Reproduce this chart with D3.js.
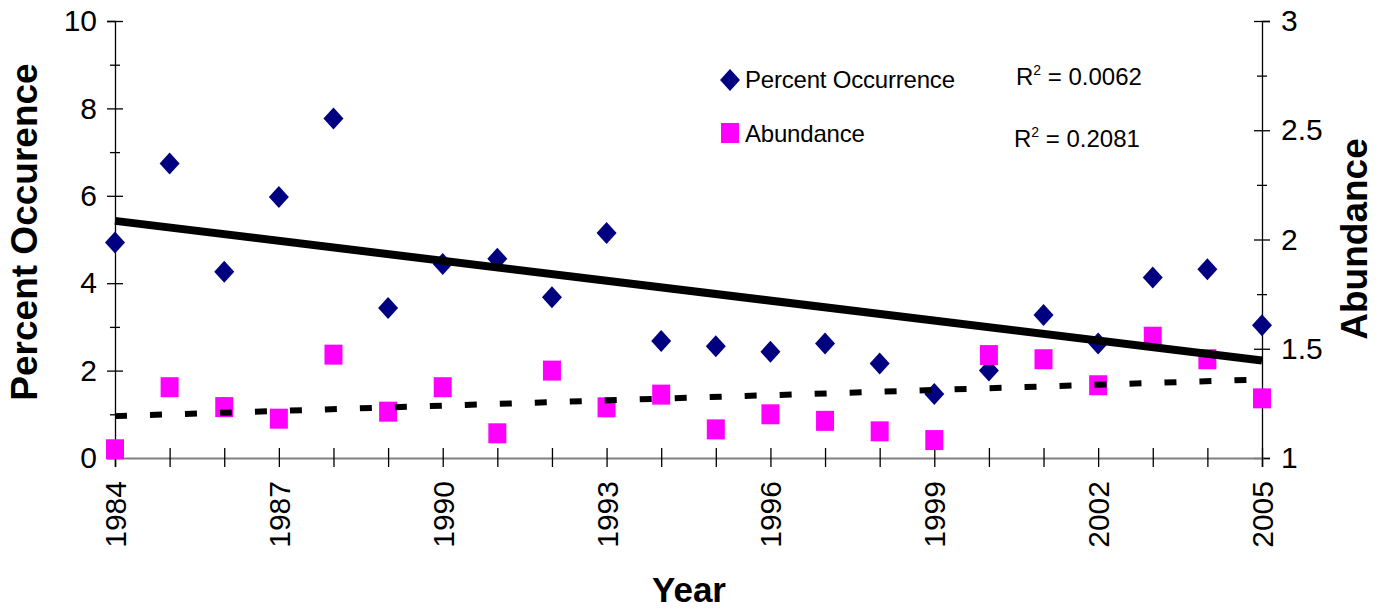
<!DOCTYPE html>
<meta charset="utf-8">
<style>
body { margin: 0; background: #fff; }
svg { font-family: "Liberation Sans", Arial, sans-serif; }
.tick text { font-size: 30px; fill: #000; }
</style>
<svg width="1387" height="610"></svg>
<script src="https://d3js.org/d3.v7.min.js"></script>
<script>

var years = d3.range(1984, 2006);
var percentOccurrence = [4.93, 6.74, 4.26, 5.97, 7.77, 3.43, 4.44, 4.56, 3.68, 5.15, 2.68,
                         2.56, 2.43, 2.62, 2.16, 1.465, 2.0, 3.27, 2.62, 4.13, 4.32, 3.04];
var abundance = [1.04, 1.324, 1.233, 1.18, 1.473, 1.212, 1.324, 1.113, 1.40, 1.232, 1.29,
                 1.131, 1.20, 1.17, 1.122, 1.082, 1.471, 1.452, 1.333, 1.555, 1.452, 1.273];
var leftTicks = [0, 2, 4, 6, 8, 10];
var leftMinor = [1, 3, 5, 7, 9];
var rightTicks = [1, 1.5, 2, 2.5, 3];
var rightMinor = [1.25, 1.75, 2.25, 2.75];
var yearLabels = [1984, 1987, 1990, 1993, 1996, 1999, 2002, 2005];
var legendItems = ["Percent Occurrence", "Abundance"];
var r2Values = ["0.0062", "0.2081"];

var svg = d3.select("svg");

var x = d3.scaleLinear().domain([1984, 2005]).range([115, 1262]);
var yL = d3.scaleLinear().domain([0, 10]).range([458, 21]);
var yR = d3.scaleLinear().domain([1, 3]).range([458, 21]);

// least squares fit
function fit(xs, ys) {
  var mx = d3.mean(xs), my = d3.mean(ys);
  var sxy = d3.sum(xs, function(d, i) { return (d - mx) * (ys[i] - my); });
  var sxx = d3.sum(xs, function(d) { return (d - mx) * (d - mx); });
  var b = sxy / sxx;
  return function(v) { return my + b * (v - mx); };
}

// axes
var gL = svg.append("g").attr("transform", "translate(115,0)")
    .call(d3.axisLeft(yL).tickValues(leftTicks).tickSize(8).tickPadding(10));
gL.selectAll(".tick line").attr("x1", 8).attr("x2", -8);
var gLm = svg.append("g").attr("transform", "translate(115,0)")
    .call(d3.axisLeft(yL).tickValues(leftMinor).tickSize(5).tickFormat(""));
gLm.selectAll(".tick line").attr("x1", 5).attr("x2", -5);
gLm.select(".domain").remove();

var gR = svg.append("g").attr("transform", "translate(1262,0)")
    .call(d3.axisRight(yR).tickValues(rightTicks).tickSize(8).tickPadding(11)
      .tickFormat(d3.format("")));
gR.selectAll(".tick line").attr("x1", -8).attr("x2", 8);
var gRm = svg.append("g").attr("transform", "translate(1262,0)")
    .call(d3.axisRight(yR).tickValues(rightMinor).tickSize(5).tickFormat(""));
gRm.selectAll(".tick line").attr("x1", -5).attr("x2", 5);
gRm.select(".domain").remove();

[gL, gLm, gR, gRm].forEach(function(g) {
  g.select(".domain").attr("stroke", "#000").attr("stroke-width", 1.3);
  g.selectAll(".tick line").attr("stroke", "#000").attr("stroke-width", 1.3);
  g.selectAll(".tick text").style("font-size", "30px");
});

var gX = svg.append("g").attr("transform", "translate(0,458)")
    .call(d3.axisBottom(x).tickValues(years).tickSize(9).tickFormat(""));
gX.select(".domain").attr("stroke", "#808080").attr("stroke-width", 2);
gX.selectAll(".tick line").attr("y1", -10).attr("y2", 9).attr("stroke", "#000").attr("stroke-width", 1.3);

svg.append("g").selectAll("text")
  .data(yearLabels)
  .enter().append("text")
    .attr("transform", function(d) { return "translate(" + (x(d) + 11) + ",481) rotate(-90)"; })
    .attr("text-anchor", "end")
    .style("font-size", "30px")
    .text(function(d) { return d; });

// axis titles
svg.append("text")
    .attr("transform", "translate(37,232) rotate(-90)")
    .attr("text-anchor", "middle")
    .style("font-size", "37px").style("font-weight", "bold")
    .text("Percent Occurence");
svg.append("text")
    .attr("transform", "translate(1367,239) rotate(-90)")
    .attr("text-anchor", "middle")
    .style("font-size", "37px").style("font-weight", "bold")
    .text("Abundance");
svg.append("text")
    .attr("x", 689).attr("y", 602)
    .attr("text-anchor", "middle")
    .style("font-size", "35px").style("font-weight", "bold")
    .text("Year");

// markers
var diamond = "M0,-11L10,0L0,11L-10,0Z";
svg.append("g").selectAll("path")
  .data(years)
  .enter().append("path")
    .attr("d", diamond)
    .attr("fill", "#000080")
    .attr("transform", function(d, i) { return "translate(" + x(d) + "," + yL(percentOccurrence[i]) + ")"; });

svg.append("g").selectAll("rect")
  .data(years)
  .enter().append("rect")
    .attr("x", function(d) { return x(d) - 9; })
    .attr("y", function(d, i) { return yR(abundance[i]) - 10; })
    .attr("width", 18).attr("height", 20)
    .attr("fill", "#ff00ff");

// trend lines
var fP = fit(years, percentOccurrence);
var fA = fit(years, abundance);
svg.append("line")
    .attr("x1", x(1984)).attr("y1", yL(fP(1984)))
    .attr("x2", x(2005)).attr("y2", yL(fP(2005)))
    .attr("stroke", "#000").attr("stroke-width", 8);
svg.append("line")
    .attr("x1", x(1984)).attr("y1", yR(fA(1984)))
    .attr("x2", x(2005)).attr("y2", yR(fA(2005)))
    .attr("stroke", "#000").attr("stroke-width", 6)
    .attr("stroke-dasharray", "12,23");

// legend
var leg = svg.append("g");
leg.append("path").attr("d", diamond).attr("fill", "#000080")
    .attr("transform", "translate(730,80)");
leg.append("rect").attr("x", 721).attr("y", 123).attr("width", 18).attr("height", 20)
    .attr("fill", "#ff00ff");
leg.selectAll("text.leg")
  .data(legendItems)
  .enter().append("text")
    .attr("class", "leg")
    .attr("x", 745)
    .attr("y", function(d, i) { return 88 + i * 54; })
    .style("font-size", "24px")
    .style("letter-spacing", "-0.2px")
    .text(function(d) { return d; });

var r2 = svg.append("g").selectAll("text")
  .data(r2Values)
  .enter().append("text")
    .attr("x", function(d, i) { return i ? 1014 : 1016; })
    .attr("y", function(d, i) { return 85 + i * 62; })
    .style("font-size", "24px");
r2.append("tspan").text("R");
r2.append("tspan").attr("dy", -10).style("font-size", "14px").text("2");
r2.append("tspan").attr("dy", 10).text(" = ");
r2.append("tspan").text(function(d) { return d; });

</script>
